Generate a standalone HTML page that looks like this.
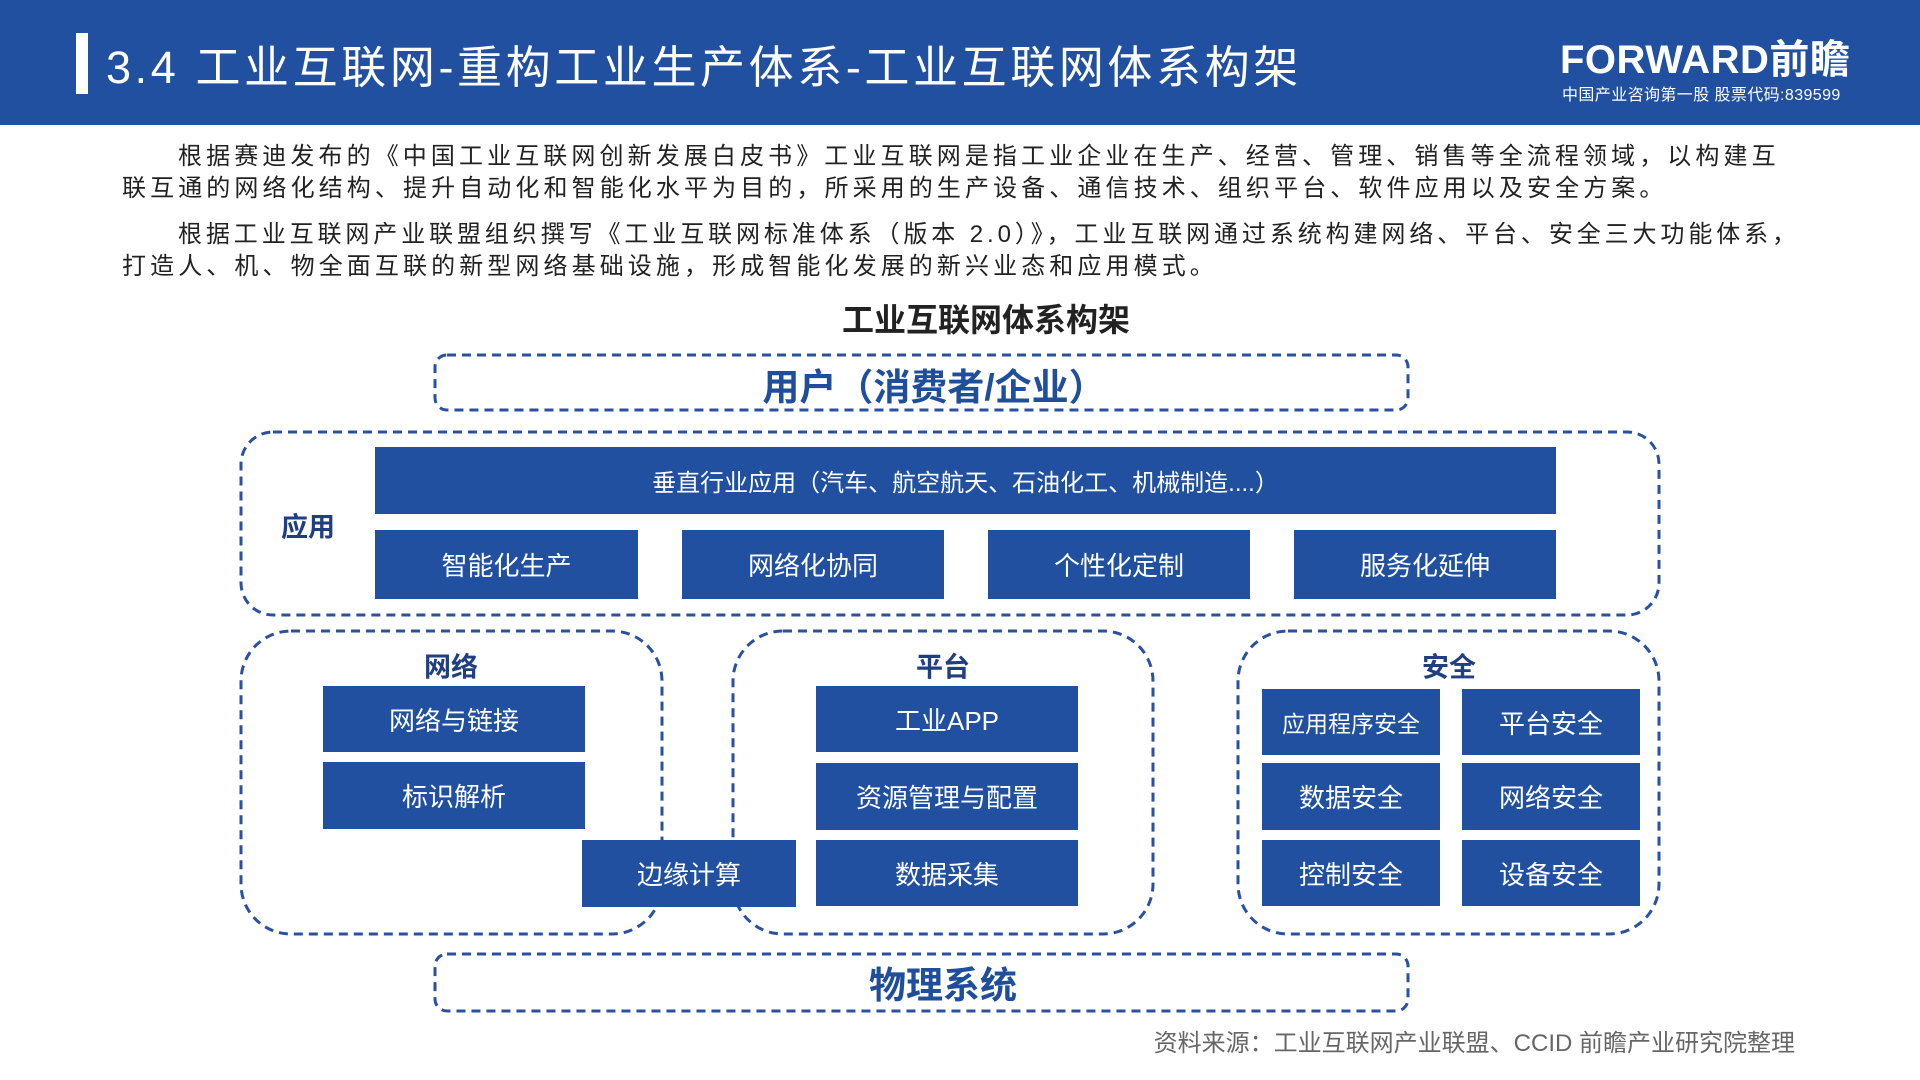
<!DOCTYPE html>
<html><head><meta charset="utf-8"><style>
*{margin:0;padding:0;box-sizing:border-box}
body{width:1920px;height:1080px;position:relative;background:#fff;font-family:"Liberation Sans","Noto Sans CJK SC",sans-serif;overflow:hidden}
.hdr{position:absolute;left:0;top:0;width:1920px;height:125px;background:#2150a0}
.bar{position:absolute;left:76px;top:33px;width:12px;height:61px;background:#fff}
.title{position:absolute;left:106px;top:38px;font-size:45px;color:#fff;white-space:nowrap;letter-spacing:3.6px;line-height:60px}
.logo{position:absolute;left:1560px;top:36px;font-size:40px;color:#fff;font-weight:bold;line-height:48px;white-space:nowrap;letter-spacing:0.5px}
.logo2{position:absolute;left:1562px;top:81px;font-size:16px;color:#fff;white-space:nowrap;letter-spacing:0.4px}
.l{position:absolute;font-size:24px;color:#222;line-height:32px;white-space:nowrap;letter-spacing:4.1px}
.t{position:absolute;white-space:nowrap;transform:translate(-50%,-50%)}
.b{position:absolute;background:#2150a0;color:#fff;display:flex;align-items:center;justify-content:center;font-size:26px;white-space:nowrap}
.lab{position:absolute;font-weight:bold;color:#1f3f80;font-size:27px;transform:translate(-50%,-50%);white-space:nowrap}
</style></head><body>
<div class="hdr"></div><div class="bar"></div>
<div class="title">3.4 工业互联网-重构工业生产体系-工业互联网体系构架</div>
<div class="logo">FORWARD前瞻</div>
<div class="logo2">中国产业咨询第一股 股票代码:839599</div>
<div class="l" style="left:178px;top:141px">根据赛迪发布的《中国工业互联网创新发展白皮书》工业互联网是指工业企业在生产、经营、管理、销售等全流程领域，以构建互</div>
<div class="l" style="left:122px;top:173px">联互通的网络化结构、提升自动化和智能化水平为目的，所采用的生产设备、通信技术、组织平台、软件应用以及安全方案。</div>
<div class="l" style="left:178px;top:219px;letter-spacing:3.9px">根据工业互联网产业联盟组织撰写《工业互联网标准体系（版本 2.0）》，工业互联网通过系统构建网络、平台、安全三大功能体系，</div>
<div class="l" style="left:122px;top:251px">打造人、机、物全面互联的新型网络基础设施，形成智能化发展的新兴业态和应用模式。</div>
<div class="t" style="left:986px;top:318px;font-size:32px;font-weight:bold;color:#222">工业互联网体系构架</div>
<svg width="1920" height="1080" style="position:absolute;left:0;top:0" fill="none" stroke="#2a50a0" stroke-width="3" stroke-dasharray="9 6">
<rect x="435" y="355" width="973" height="55" rx="12"/>
<rect x="241" y="432" width="1418" height="183" rx="32"/>
<rect x="241" y="631" width="421" height="303" rx="50"/>
<rect x="733" y="631" width="420" height="303" rx="50"/>
<rect x="1238" y="631" width="421" height="303" rx="50"/>
<rect x="435" y="954" width="973" height="57" rx="12"/>
</svg>
<div class="t" style="left:934px;top:384px;font-size:37px;font-weight:bold;color:#1f4e9c">用户（消费者/企业）</div>
<div class="t" style="left:943px;top:982px;font-size:37px;font-weight:bold;color:#1f4e9c">物理系统</div>
<div class="lab" style="left:308px;top:525px">应用</div>
<div class="lab" style="left:451px;top:665px">网络</div>
<div class="lab" style="left:943px;top:665px">平台</div>
<div class="lab" style="left:1449px;top:665px">安全</div>
<div class="b" style="left:375px;top:447px;width:1181px;height:67px;font-size:24px">垂直行业应用（汽车、航空航天、石油化工、机械制造....）</div>
<div class="b" style="left:375px;top:530px;width:263px;height:69px">智能化生产</div>
<div class="b" style="left:682px;top:530px;width:262px;height:69px">网络化协同</div>
<div class="b" style="left:988px;top:530px;width:262px;height:69px">个性化定制</div>
<div class="b" style="left:1294px;top:530px;width:262px;height:69px">服务化延伸</div>
<div class="b" style="left:323px;top:686px;width:262px;height:66px">网络与链接</div>
<div class="b" style="left:323px;top:762px;width:262px;height:67px">标识解析</div>
<div class="b" style="left:582px;top:840px;width:214px;height:67px">边缘计算</div>
<div class="b" style="left:816px;top:686px;width:262px;height:66px">工业APP</div>
<div class="b" style="left:816px;top:763px;width:262px;height:67px">资源管理与配置</div>
<div class="b" style="left:816px;top:840px;width:262px;height:66px">数据采集</div>
<div class="b" style="left:1262px;top:689px;width:178px;height:66px;font-size:23px">应用程序安全</div>
<div class="b" style="left:1462px;top:689px;width:178px;height:66px">平台安全</div>
<div class="b" style="left:1262px;top:763px;width:178px;height:67px">数据安全</div>
<div class="b" style="left:1462px;top:763px;width:178px;height:67px">网络安全</div>
<div class="b" style="left:1262px;top:840px;width:178px;height:66px">控制安全</div>
<div class="b" style="left:1462px;top:840px;width:178px;height:66px">设备安全</div>
<div style="position:absolute;right:125px;top:1023px;font-size:24px;color:#666;white-space:nowrap">资料来源：工业互联网产业联盟、CCID 前瞻产业研究院整理</div>
</body></html>
